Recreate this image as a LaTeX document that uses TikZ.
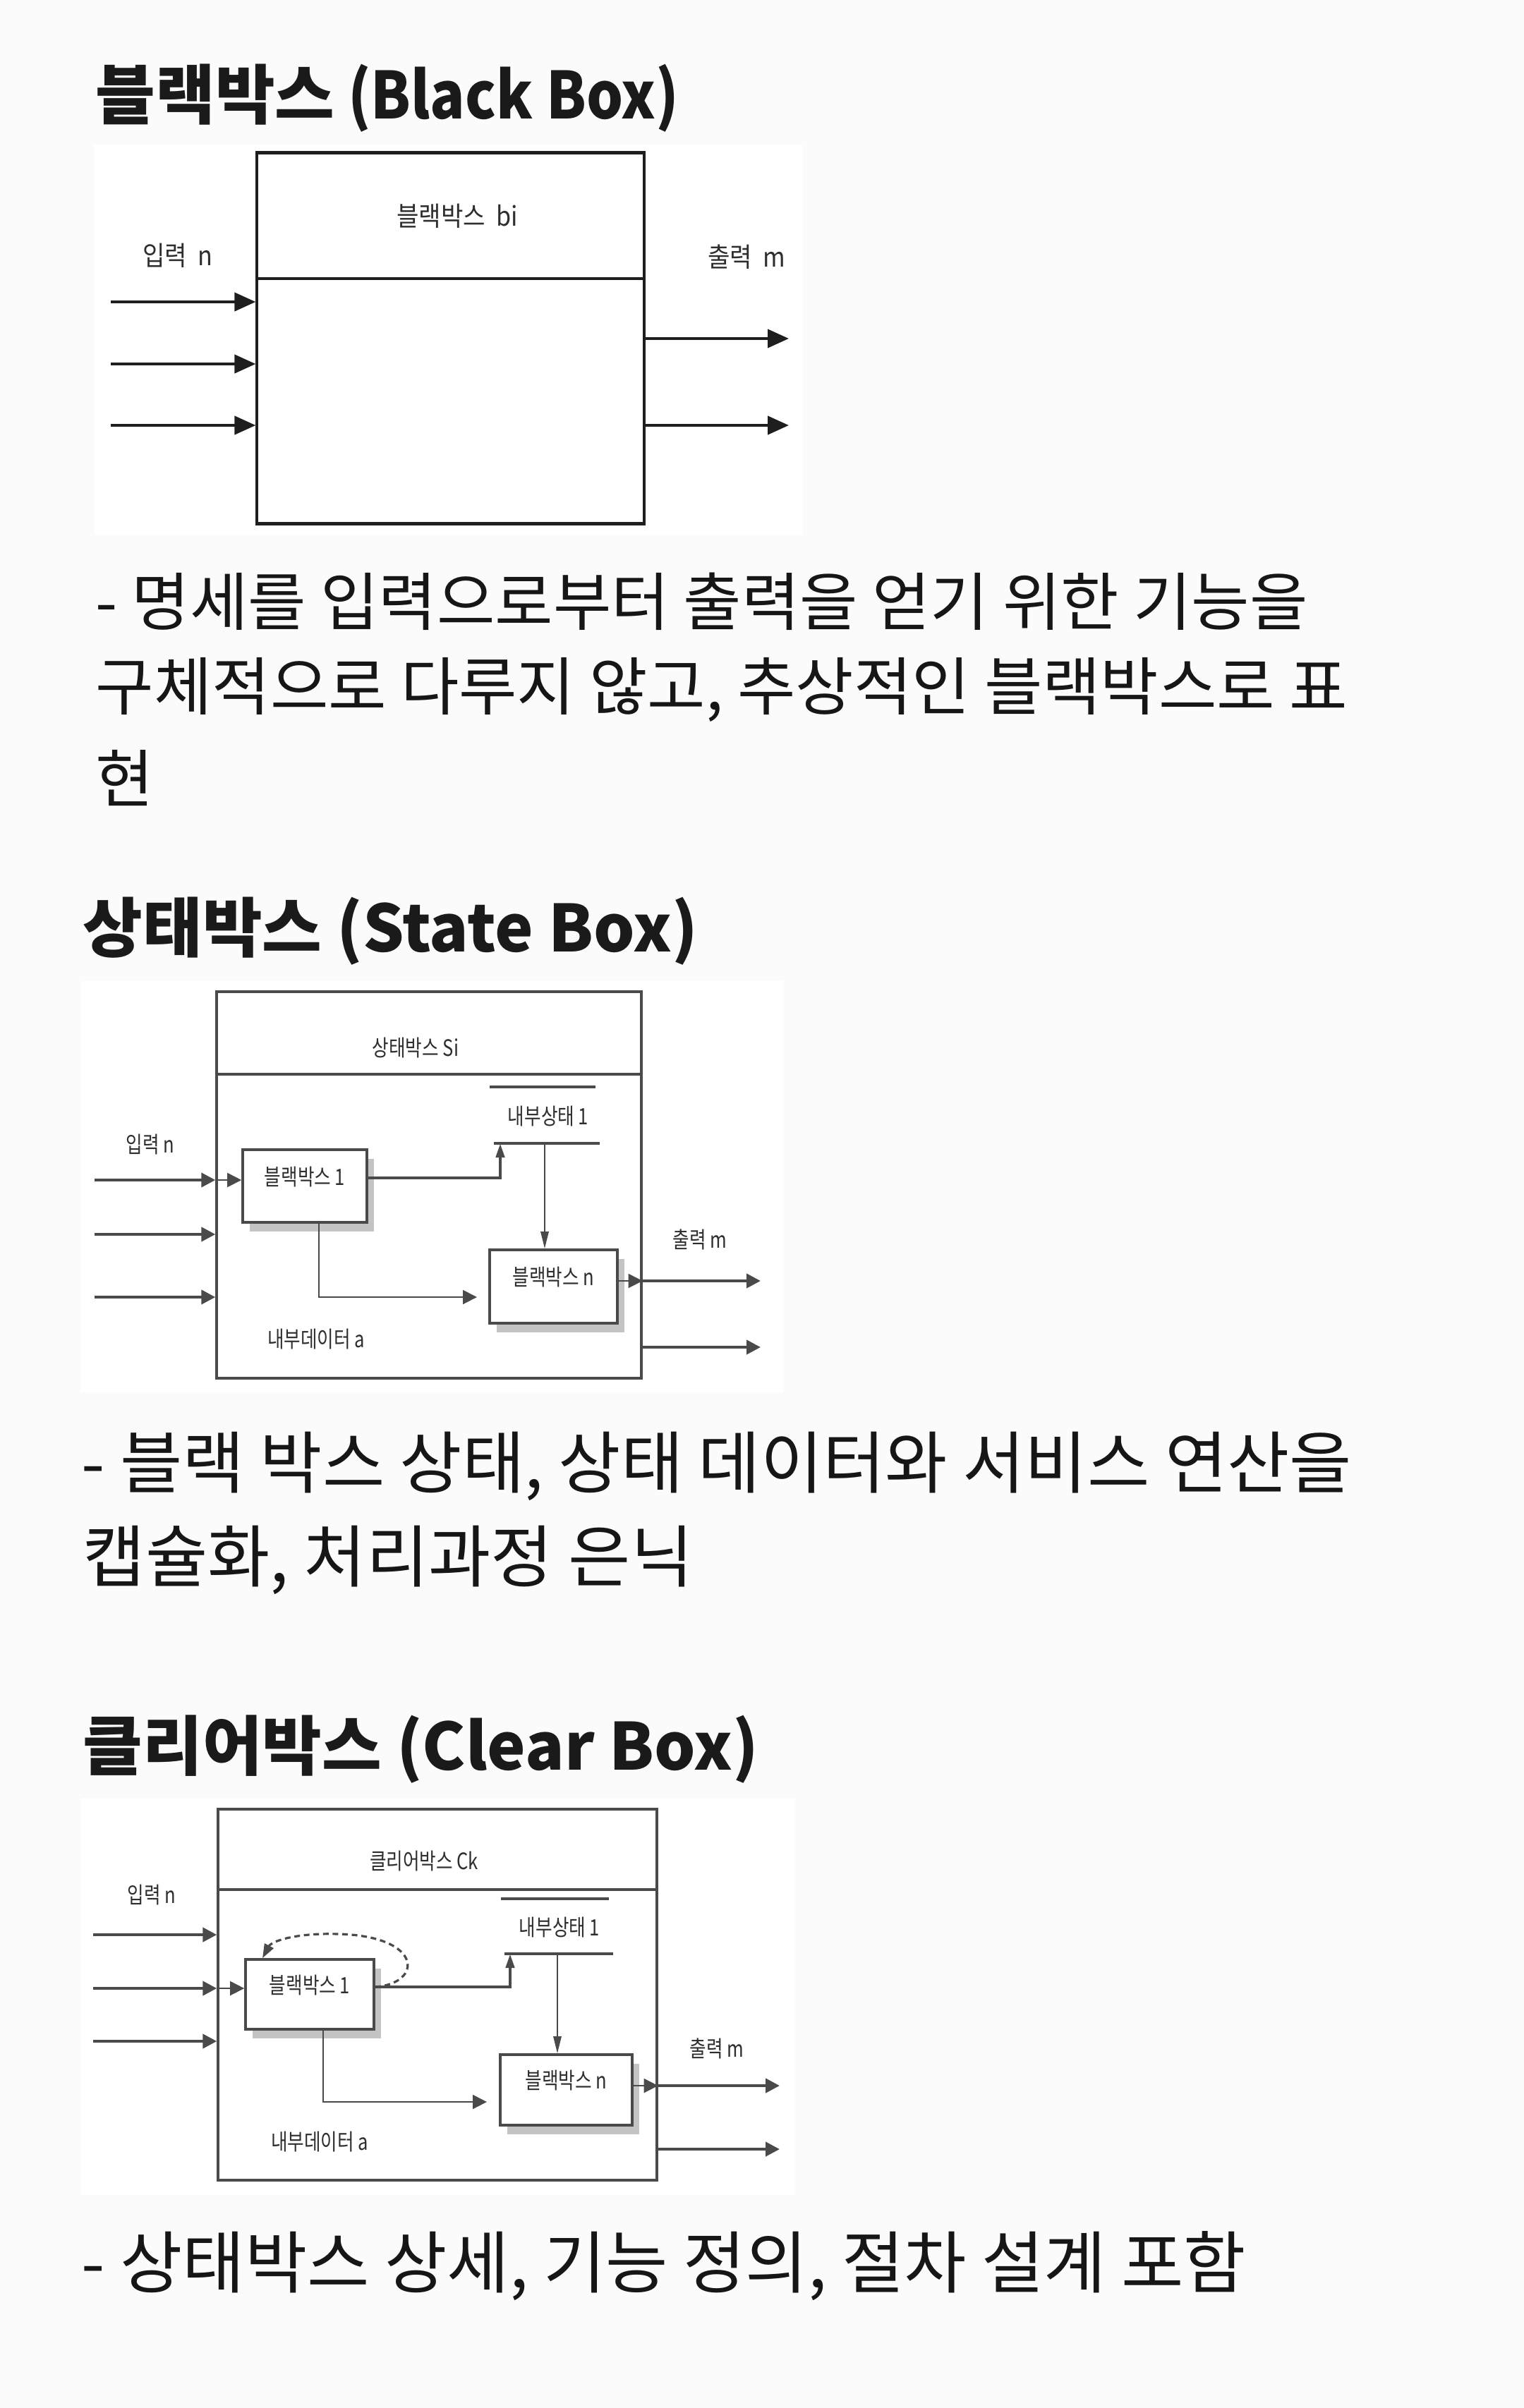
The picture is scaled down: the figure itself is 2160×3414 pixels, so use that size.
\documentclass[tikz,border=0pt]{standalone}
\usepackage{fontspec}
\usetikzlibrary{arrows.meta,calc,fit,shadows}
\setmainfont{Noto Sans CJK KR}
\newfontfamily\krfont{Noto Sans CJK KR}
\newfontfamily\krnarrow[FakeStretch=0.89]{Noto Sans CJK KR}
\newfontfamily\krlabA[FakeStretch=0.9]{Noto Sans CJK KR}
\newfontfamily\krlabB[FakeStretch=0.8]{Noto Sans CJK KR}
\definecolor{pagebg}{HTML}{FBFBFB}
\definecolor{inkc}{HTML}{161616}
\definecolor{headc}{HTML}{1A1A1A}
\definecolor{lineA}{HTML}{1E1E1E}
\definecolor{lineB}{HTML}{4A4A4A}
\definecolor{labc}{HTML}{2E2E2E}
\definecolor{shadowc}{HTML}{C4C4C4}
\begin{document}
\begin{tikzpicture}[x=0.25pt,y=-0.25pt,
 heading/.style={anchor=west,inner sep=0pt,text=headc,font=\krfont\bfseries\fontsize{23pt}{28pt}\selectfont},
 bodyA/.style={anchor=west,inner sep=0pt,text=inkc,font=\krfont\fontsize{22.4pt}{27pt}\selectfont},
 bodyB/.style={anchor=west,inner sep=0pt,text=inkc,font=\krfont\fontsize{24pt}{29pt}\selectfont},
 labA/.style={inner sep=0pt,text=labc,font=\krlabA\fontsize{9.5pt}{11pt}\selectfont},
 labB/.style={inner sep=0pt,text=labc,font=\krlabB\fontsize{8pt}{10pt}\selectfont},
 frameA/.style={draw=lineA,line width=0.8pt,inner sep=0pt},
 frameB/.style={draw=lineB,line width=0.85pt,inner sep=0pt},
 divA/.style={draw=lineA,line width=0.9pt},
 divB/.style={draw=lineB,line width=0.95pt},
 subbox/.style={draw=lineB,line width=0.9pt,fill=white,inner sep=0pt,text=labc,
   font=\krlabB\fontsize{8pt}{10pt}\selectfont,
   drop shadow={shadow xshift=2.5pt,shadow yshift=-3.2pt,fill=shadowc,opacity=1}},
 bigarr/.style={draw=lineA,line width=1.05pt,-{Triangle[length=7.5pt,width=6.5pt]}},
 arrB/.style={draw=lineB,line width=1.1pt,-{Triangle[length=5pt,width=5pt]}},
 uparr/.style={draw=lineB,line width=1.1pt,-{Triangle[length=5pt,width=3pt]}},
 thinarr/.style={draw=lineB,line width=0.5pt,-{Triangle[length=5pt,width=5pt]}},
 needle/.style={draw=lineB,line width=0.5pt,-{Triangle[length=6pt,width=2.8pt]}},
 loopdash/.style={draw=lineB,line width=0.8pt,dash pattern=on 2pt off 1.4pt,-{Triangle[length=5pt,width=3.5pt]}},
 storeline/.style={draw=lineB,line width=1pt},
]
\fill[pagebg] (0,0) rectangle (2160,3414);
\useasboundingbox (0,0) rectangle (2160,3414);

% ================= Section 1: Black box =================
\node[heading] (h1) at (135,139) {블랙박스{\krnarrow\bfseries{} (Black Box)}};
\fill[white] (133,205) rectangle (1137,758);
\node[frameA, fit={(364,217) (913,742)}] (bb) {};
\coordinate (bbdiv) at (0,395);
\draw[divA] (bb.west |- bbdiv) -- (bb.east |- bbdiv);
\draw[divA] (bb.north west) -- (bb.north east);
\draw[divA] (bb.south west) -- (bb.south east);
\node[labA] (bbt) at (648,306) {블랙박스~~bi};
\node[labA] (bbin) at (252,362) {입력~~n};
\node[labA] (bbout) at (1058,364) {출력~~m};
\coordinate (bi1) at (157,428);
\coordinate (bi2) at (157,516);
\coordinate (bi3) at (157,603);
\draw[bigarr] (bi1) -- (bi1 -| bb.west);
\draw[bigarr] (bi2) -- (bi2 -| bb.west);
\draw[bigarr] (bi3) -- (bi3 -| bb.west);
\coordinate (bo1) at (1118,480);
\coordinate (bo2) at (1118,603);
\draw[bigarr] (bo1 -| bb.east) -- (bo1);
\draw[bigarr] (bo2 -| bb.east) -- (bo2);

\node[bodyA] (t1a) at (135,853) {- 명세를 입력으로부터 출력을 얻기 위한 기능을};
\node[bodyA] (t1b) at (135,978) {구체적으로 다루지 않고, 추상적인 블랙박스로 표};
\node[bodyA] (t1c) at (135,1103) {현};

% ================= Section 2: State box =================
\node[heading] (h2) at (117,1320) {상태박스 (State Box)};
\fill[white] (115,1391) rectangle (1111,1974);
\node[frameB, fit={(307,1406) (909,1954)}] (sb) {};
\coordinate (sbdiv) at (0,1523);
\draw[divB] (sb.west |- sbdiv) -- (sb.east |- sbdiv);
\node[labB] (sbt) at (589,1485) {상태박스 Si};
\node[labB] (sbin) at (213,1623) {입력 n};
\node[labB] (sbout) at (992,1757) {출력 m};
\node[labB] (sbdata) at (448,1899) {내부데이터 a};
\node[labB] (sbst) at (777,1582) {내부상태 1};
\draw[storeline] (694,1541) -- (844,1541);
\draw[storeline] (700,1621) -- (850,1621);
\coordinate (sbstb) at (0,1621);
\node[subbox, fit={(344,1630) (520,1733)}] (sb1) {블랙박스 1};
\node[subbox, fit={(694,1772) (875,1876)}] (sbn) {블랙박스 n};
\coordinate (si1) at (134,1673);
\coordinate (si2) at (134,1750);
\coordinate (si3) at (134,1839);
\draw[arrB] (si1) -- (si1 -| sb.west);
\draw[arrB] (si2) -- (si2 -| sb.west);
\draw[arrB] (si3) -- (si3 -| sb.west);
\draw[thinarr] (si1 -| sb.west) -- (si1 -| sb1.west);
\coordinate (sbj) at (709,1670);
\draw[uparr] (sb1.east |- sbj) -- (sbj) -- (sbj |- sbstb);
\coordinate (sbk) at (772,1621);
\draw[needle] (sbk) -- (sbk |- sbn.north);
\coordinate (sbm) at (452,1839);
\coordinate (sbe) at (676,1839);
\draw[thinarr] (sbm |- sb1.south) -- (sbm) -- (sbe);
\coordinate (so1) at (1078,1816);
\coordinate (so2) at (1078,1910);
\draw[thinarr] (sbn.east |- so1) -- (so1 -| sb.east);
\draw[arrB] (so1 -| sb.east) -- (so1);
\draw[arrB] (so2 -| sb.east) -- (so2);

\node[bodyB] (t2a) at (115,2079) {- 블랙 박스 상태, 상태 데이터와 서비스 연산을};
\node[bodyB] (t2b) at (117,2212) {캡슐화, 처리과정 은닉};

% ================= Section 3: Clear box =================
\node[heading] (h3) at (117,2480) {클리어박스 (Clear Box)};
\fill[white] (115,2550) rectangle (1126,3112);
\node[frameB, fit={(309,2565) (931,3091)}] (cb) {};
\coordinate (cbdiv) at (0,2679);
\draw[divB] (cb.west |- cbdiv) -- (cb.east |- cbdiv);
\node[labB] (cbt) at (601,2638) {클리어박스 Ck};
\node[labB] (cbin) at (215,2686) {입력 n};
\node[labB] (cbout) at (1016,2904) {출력 m};
\node[labB] (cbdata) at (453,3036) {내부데이터 a};
\node[labB] (cbst) at (793,2732) {내부상태 1};
\draw[storeline] (710,2692) -- (863,2692);
\draw[storeline] (715,2770) -- (869,2770);
\coordinate (cbstb) at (0,2770);
\node[subbox, fit={(348,2778) (530,2877)}] (cb1) {블랙박스 1};
\node[subbox, fit={(709,2913) (896,3013)}] (cbn) {블랙박스 n};
\coordinate (ci1) at (132,2743);
\coordinate (ci2) at (132,2819);
\coordinate (ci3) at (132,2894);
\draw[arrB] (ci1) -- (ci1 -| cb.west);
\draw[arrB] (ci2) -- (ci2 -| cb.west);
\draw[arrB] (ci3) -- (ci3 -| cb.west);
\draw[thinarr] (ci2 -| cb.west) -- (ci2 -| cb1.west);
\coordinate (cbj) at (723,2817);
\draw[uparr] (cb1.east |- cbj) -- (cbj) -- (cbj |- cbstb);
\coordinate (cbl) at (372,0);
\draw[loopdash] (cb1.east |- cbj) .. controls (600,2812) and (600,2745) .. (480,2742)
  .. controls (420,2740) and (385,2752) .. (cbl |- cb1.north);
\coordinate (cbk) at (790,2770);
\draw[needle] (cbk) -- (cbk |- cbn.north);
\coordinate (cbm) at (458,2980);
\coordinate (cbe) at (690,2980);
\draw[thinarr] (cbm |- cb1.south) -- (cbm) -- (cbe);
\coordinate (co1) at (1105,2957);
\coordinate (co2) at (1105,3047);
\draw[thinarr] (cbn.east |- co1) -- (co1 -| cb.east);
\draw[arrB] (co1 -| cb.east) -- (co1);
\draw[arrB] (co2 -| cb.east) -- (co2);

\node[bodyB] (t3) at (115,3213) {- 상태박스 상세, 기능 정의, 절차 설계 포함};
\end{tikzpicture}
\end{document}
